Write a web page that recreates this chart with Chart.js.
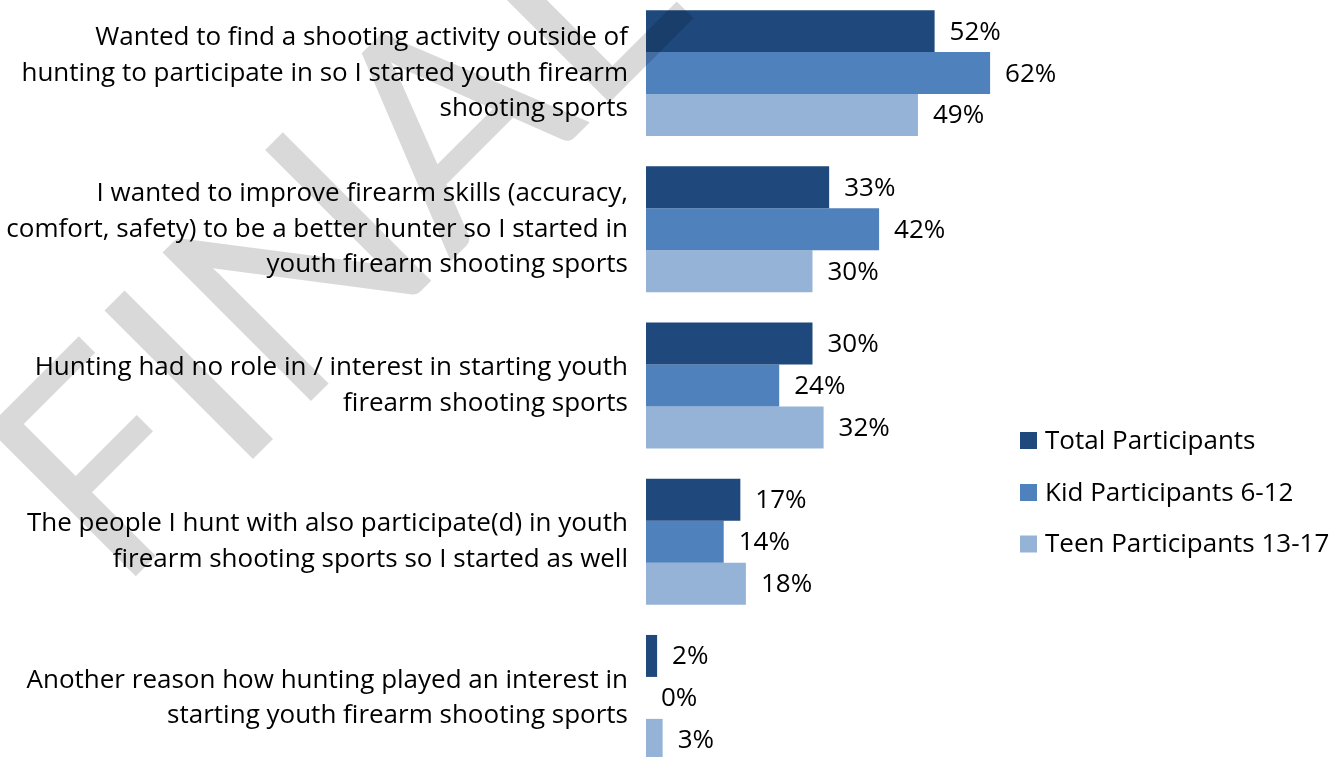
<!DOCTYPE html>
<html>
<head>
<meta charset="utf-8">
<script src="https://cdn.jsdelivr.net/npm/chart.js@4/dist/chart.umd.min.js"></script>
<style>
  html, body { margin: 0; padding: 0; background: #fff; overflow: hidden; }
  #wrap { position: absolute; left: 0; top: -5px; width: 1329px; height: 781px; }
</style>
</head>
<body>
<div id="wrap"><canvas id="chart"></canvas></div>
<script>
const categories = [
    ["Wanted to find a shooting activity outside of", "hunting to participate in so I started youth firearm", "shooting sports"],
    ["I wanted to improve firearm skills (accuracy,", "comfort, safety) to be a better hunter so I started in", "youth firearm shooting sports"],
    ["Hunting had no role in / interest in starting youth", "firearm shooting sports"],
    ["The people I hunt with also participate(d) in youth", "firearm shooting sports so I started as well"],
    ["Another reason how hunting played an interest in", "starting youth firearm shooting sports"]
];
const seriesNames = ["Total Participants", "Kid Participants 6-12", "Teen Participants 13-17"];
const totalValues = [52, 33, 30, 17, 2];
const kidValues = [62, 42, 24, 14, 0];
const teenValues = [49, 30, 32, 18, 3];
const colors = ["#1F497D", "#4F81BD", "#95B3D7"];

const FONT = "'Open Sans', sans-serif";
const SIZE = 26;

// percent labels next to each bar
const valueLabels = {
    id: 'valueLabels',
    afterDatasetsDraw(chart) {
        const ctx = chart.ctx;
        ctx.save();
        ctx.font = SIZE + "px " + FONT;
        ctx.fillStyle = "#000";
        ctx.textAlign = "left";
        ctx.textBaseline = "middle";
        chart.data.datasets.forEach((ds, i) => {
            chart.getDatasetMeta(i).data.forEach((bar, j) => {
                ctx.fillText(ds.data[j] + "%", bar.x + 15, bar.y + 1);
            });
        });
        ctx.restore();
    }
};

// legend on the right + FINAL watermark
const extras = {
    id: 'extras',
    afterDraw(chart) {
        const ctx = chart.ctx;
        ctx.save();
        ctx.font = SIZE + "px " + FONT;
        ctx.textBaseline = "middle";
        ctx.textAlign = "left";
        const rows = [445.5, 497.5, 549];
        chart.data.datasets.forEach((ds, i) => {
            ctx.fillStyle = ds.backgroundColor;
            ctx.fillRect(1020, rows[i] - 8.5, 17, 17);
            ctx.fillStyle = "#000";
            ctx.fillText(ds.label, 1045, rows[i] + 1);
        });

        // watermark, placed by the stem of the "I"
        ctx.font = "293px Lato, sans-serif";
        ctx.textBaseline = "alphabetic";
        const iOff = ctx.measureText("F").width + ctx.measureText("I").width / 2;
        const a = -45 * Math.PI / 180;
        ctx.translate(263 - iOff * Math.cos(a), 454 - iOff * Math.sin(a));
        ctx.rotate(a);
        ctx.fillStyle = "rgba(0,0,0,0.15)";
        ctx.fillText("FINAL", 0, 0);
        ctx.restore();
    }
};

new Chart(document.getElementById('chart'), {
    type: 'bar',
    data: {
        labels: categories,
        datasets: [
            { label: seriesNames[0], data: totalValues, backgroundColor: colors[0] },
            { label: seriesNames[1], data: kidValues, backgroundColor: colors[1] },
            { label: seriesNames[2], data: teenValues, backgroundColor: colors[2] }
        ]
    },
    options: {
        indexAxis: 'y',
        responsive: true,
        maintainAspectRatio: false,
        animation: false,
        datasets: { bar: { categoryPercentage: 0.806, barPercentage: 1.0 } },
        layout: { padding: { left: 0, right: 128, top: 0, bottom: 0 } },
        plugins: { legend: { display: false }, tooltip: { enabled: false } },
        scales: {
            x: { display: false, min: 0, max: 100 },
            y: {
                grid: { display: false },
                border: { display: false },
                ticks: {
                    color: "#000",
                    padding: 10,
                    font: { family: FONT, size: SIZE, lineHeight: 1.365 }
                },
                afterFit(scale) {
                    scale.width = 646;
                    scale.paddingTop = 0;
                    scale.paddingBottom = 0;
                }
            }
        }
    },
    plugins: [valueLabels, extras]
});
</script>
</body>
</html>
